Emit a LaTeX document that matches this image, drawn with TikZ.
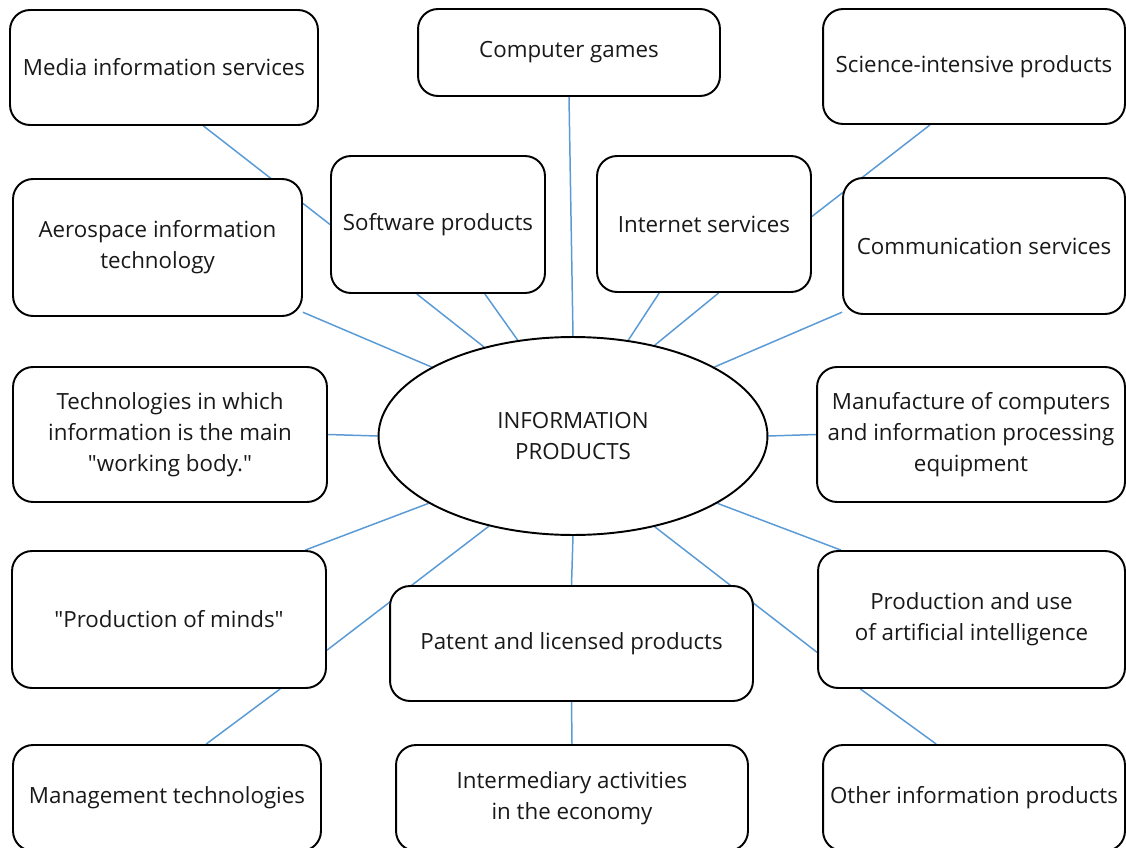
\documentclass[tikz,border=0pt]{standalone}
\usepackage{fontspec}
\setmainfont{Open Sans}[Ligatures=TeXOff]
\usepackage{tikz}
\usetikzlibrary{shapes.geometric,backgrounds}
\definecolor{linkblue}{HTML}{5B9BD5}
\tikzset{
    box/.style = {
        draw,
        shape=rectangle,
        rounded corners=0.4cm,
        fill=white,
        align=center,
        line width=1.1pt,
        text=black!90,
        font=\fontsize{12.7}{17.6}\selectfont
    },
    hub/.style = {
        draw,
        shape=ellipse,
        fill=white,
        align=center,
        inner sep=0pt,
        minimum width=7.78cm,
        minimum height=3.96cm,
        line width=1.1pt,
        text=black!90,
        font=\fontsize{12.7}{17.6}\selectfont
    },
    link/.style = {
        draw=linkblue,
        line width=0.85pt
    },
}

\begin{document}
\begin{tikzpicture}[x=0.02cm,y=-0.02cm]
    \useasboundingbox (0,0) rectangle (1126,848);

    \node[hub] (info) at (573,436) {INFORMATION\\PRODUCTS};

    \node[box, minimum width=6.16cm, minimum height=2.30cm] (media) at (164,67.5) {Media information services};
    \node[box, minimum width=6.04cm, minimum height=1.74cm] (games) at (569,52.5) {Computer games};
    \node[box, minimum width=6.04cm, minimum height=2.30cm] (science) at (974,66.5) {Science-intensive products};
    \node[box, minimum width=5.78cm, minimum height=2.74cm] (aero) at (157.5,247.5) {Aerospace information\\technology};
    \node[box, minimum width=4.28cm, minimum height=2.74cm] (soft) at (438,224.5) {Software products};
    \node[box, minimum width=4.28cm, minimum height=2.72cm] (inet) at (704,224) {Internet services};
    \node[box, minimum width=5.64cm, minimum height=2.72cm] (comm) at (984,246) {Communication services};
    \node[box, minimum width=6.28cm, minimum height=2.70cm] (tech) at (170,434.5) {Technologies in which\\information is the main\\"working body."};
    \node[box, minimum width=6.16cm, minimum height=2.70cm] (manuf) at (971,434.5) {Manufacture of computers\\and information processing\\equipment};
    \node[box, minimum width=6.28cm, minimum height=2.74cm] (minds) at (169,619.5) {"Production of minds"};
    \node[box, minimum width=7.26cm, minimum height=2.30cm] (patent) at (571.5,643.5) {Patent and licensed products};
    \node[box, minimum width=6.14cm, minimum height=2.74cm] (ai) at (971.5,619.5) {Production and use\\of artificial intelligence};
    \node[box, minimum width=6.16cm, minimum height=2.12cm] (manage) at (167,798) {Management technologies};
    \node[box, minimum width=7.04cm, minimum height=2.12cm] (inter) at (572,798) {Intermediary activities\\in the economy};
    \node[box, minimum width=6.04cm, minimum height=2.12cm] (other) at (974,798) {Other information products};

    % connectors, behind the boxes
    \begin{scope}[on background layer]
        \path[link] (media.304) -- (soft.west);
        \path[link] (games.south) -- (info.north);
        \path[link] (science.233) -- (inet.4);
        \path[link] (aero.336) -- (info.154);
        \path[link] (soft.253) -- (info.135);
        \path[link] (soft.304) -- (info.120);
        \path[link] (inet.237) -- (info.60);
        \path[link] (inet.282) -- (info.48);
        \path[link] (comm.205) -- (info.26);
        \path[link] (tech.east) -- (info.west);
        \path[link] (manuf.west) -- (info.east);
        \path[link] (minds.27) -- (info.205);
        \path[link] (minds.349) -- (info.227);
        \path[link] (patent.north) -- (info.south);
        \path[link] (ai.192) -- (info.312);
        \path[link] (ai.152) -- (info.335);
        \path[link] (manage.54) -- (minds.328);
        \path[link] (inter.north) -- (patent.south);
        \path[link] (other.125) -- (ai.212);
    \end{scope}
\end{tikzpicture}
\end{document}
